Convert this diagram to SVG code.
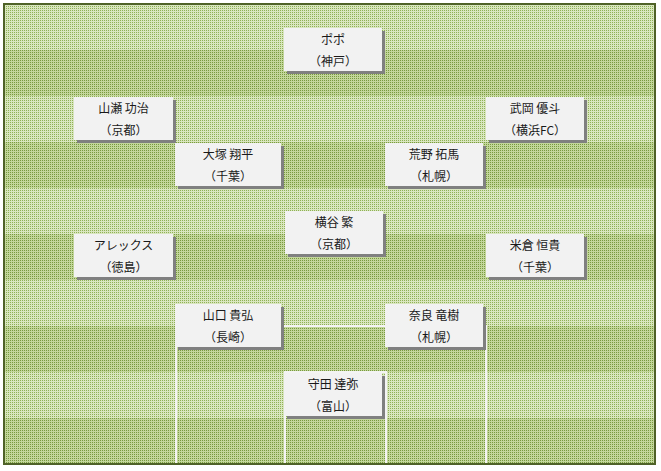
<svg xmlns="http://www.w3.org/2000/svg" width="661" height="471" viewBox="0 0 661 471">
<style>
.box{fill:#f2f2f2}
.sh{fill:#808080}
.t{font-family:"Noto Sans CJK JP","Noto Sans",sans-serif;font-size:12px;fill:#1a1a1a;text-anchor:middle}
.ln{stroke:#f4f4f4;stroke-width:2;fill:none}
</style>
<defs>
<pattern id="pl" width="2" height="2" patternUnits="userSpaceOnUse"><rect width="2" height="2" fill="#d9e6bf"/><rect width="1" height="1" fill="#8fb155"/></pattern>
<pattern id="pd" width="2" height="2" patternUnits="userSpaceOnUse"><rect width="2" height="2" fill="#c3d69b"/><rect width="1" height="1" fill="#789a3e"/></pattern>
</defs>
<rect width="661" height="471" fill="#ffffff"/>
<g id="field">
<rect x="4" y="4" width="651" height="46" fill="url(#pl)"/>
<rect x="4" y="50" width="651" height="46" fill="url(#pd)"/>
<rect x="4" y="96" width="651" height="46" fill="url(#pl)"/>
<rect x="4" y="142" width="651" height="46" fill="url(#pd)"/>
<rect x="4" y="188" width="651" height="46" fill="url(#pl)"/>
<rect x="4" y="234" width="651" height="46" fill="url(#pd)"/>
<rect x="4" y="280" width="651" height="46" fill="url(#pl)"/>
<rect x="4" y="326" width="651" height="46" fill="url(#pd)"/>
<rect x="4" y="372" width="651" height="46" fill="url(#pl)"/>
<rect x="4" y="418" width="651" height="46" fill="url(#pd)"/>
</g>
<g id="connectors">
<path class="ln" d="M176 464 V326 H486 V464"/>
<path class="ln" d="M285 464 V372 H386 V464"/>
</g>
<rect x="4" y="4" width="651" height="460" fill="none" stroke="#4f6228" stroke-width="2"/>
<g id="popo" transform="translate(284,28)"><rect class="sh" x="3" y="3" width="98" height="43"/><rect class="box" width="98" height="43"/><text class="t" x="49" y="15.5">ポポ</text><text class="t" x="49" y="37.5">（神戸）</text></g>
<g id="yamase" transform="translate(74,97)"><rect class="sh" x="3" y="3" width="99" height="43"/><rect class="box" width="99" height="43"/><text class="t" x="49.5" y="15.5">山瀬 功治</text><text class="t" x="49.5" y="37.5">（京都）</text></g>
<g id="takeoka" transform="translate(486,97)"><rect class="sh" x="3" y="3" width="98" height="43"/><rect class="box" width="98" height="43"/><text class="t" x="49" y="15.5">武岡 優斗</text><text class="t" x="49" y="37.5">（横浜FC）</text></g>
<g id="otsuka" transform="translate(175,143)"><rect class="sh" x="3" y="3" width="106" height="43"/><rect class="box" width="106" height="43"/><text class="t" x="53" y="15.5">大塚 翔平</text><text class="t" x="53" y="37.5">（千葉）</text></g>
<g id="arano" transform="translate(385,143)"><rect class="sh" x="3" y="3" width="98" height="43"/><rect class="box" width="98" height="43"/><text class="t" x="49" y="15.5">荒野 拓馬</text><text class="t" x="49" y="37.5">（札幌）</text></g>
<g id="yokotani" transform="translate(285,211)"><rect class="sh" x="3" y="3" width="98" height="43"/><rect class="box" width="98" height="43"/><text class="t" x="49" y="15.5">横谷 繁</text><text class="t" x="49" y="37.5">（京都）</text></g>
<g id="alex" transform="translate(74,234)"><rect class="sh" x="3" y="3" width="99" height="43"/><rect class="box" width="99" height="43"/><text class="t" x="49.5" y="15.5">アレックス</text><text class="t" x="49.5" y="37.5">（徳島）</text></g>
<g id="yonekura" transform="translate(486,234)"><rect class="sh" x="3" y="3" width="98" height="43"/><rect class="box" width="98" height="43"/><text class="t" x="49" y="15.5">米倉 恒貴</text><text class="t" x="49" y="37.5">（千葉）</text></g>
<g id="yamaguchi" transform="translate(175,304)"><rect class="sh" x="3" y="3" width="106" height="43"/><rect class="box" width="106" height="43"/><text class="t" x="53" y="15.5">山口 貴弘</text><text class="t" x="53" y="37.5">（長崎）</text></g>
<g id="nara" transform="translate(385,304)"><rect class="sh" x="3" y="3" width="98" height="43"/><rect class="box" width="98" height="43"/><text class="t" x="49" y="15.5">奈良 竜樹</text><text class="t" x="49" y="37.5">（札幌）</text></g>
<g id="morita" transform="translate(284,373)"><rect class="sh" x="3" y="3" width="98" height="43"/><rect class="box" width="98" height="43"/><text class="t" x="49" y="15.5">守田 達弥</text><text class="t" x="49" y="37.5">（富山）</text></g>
</svg>
